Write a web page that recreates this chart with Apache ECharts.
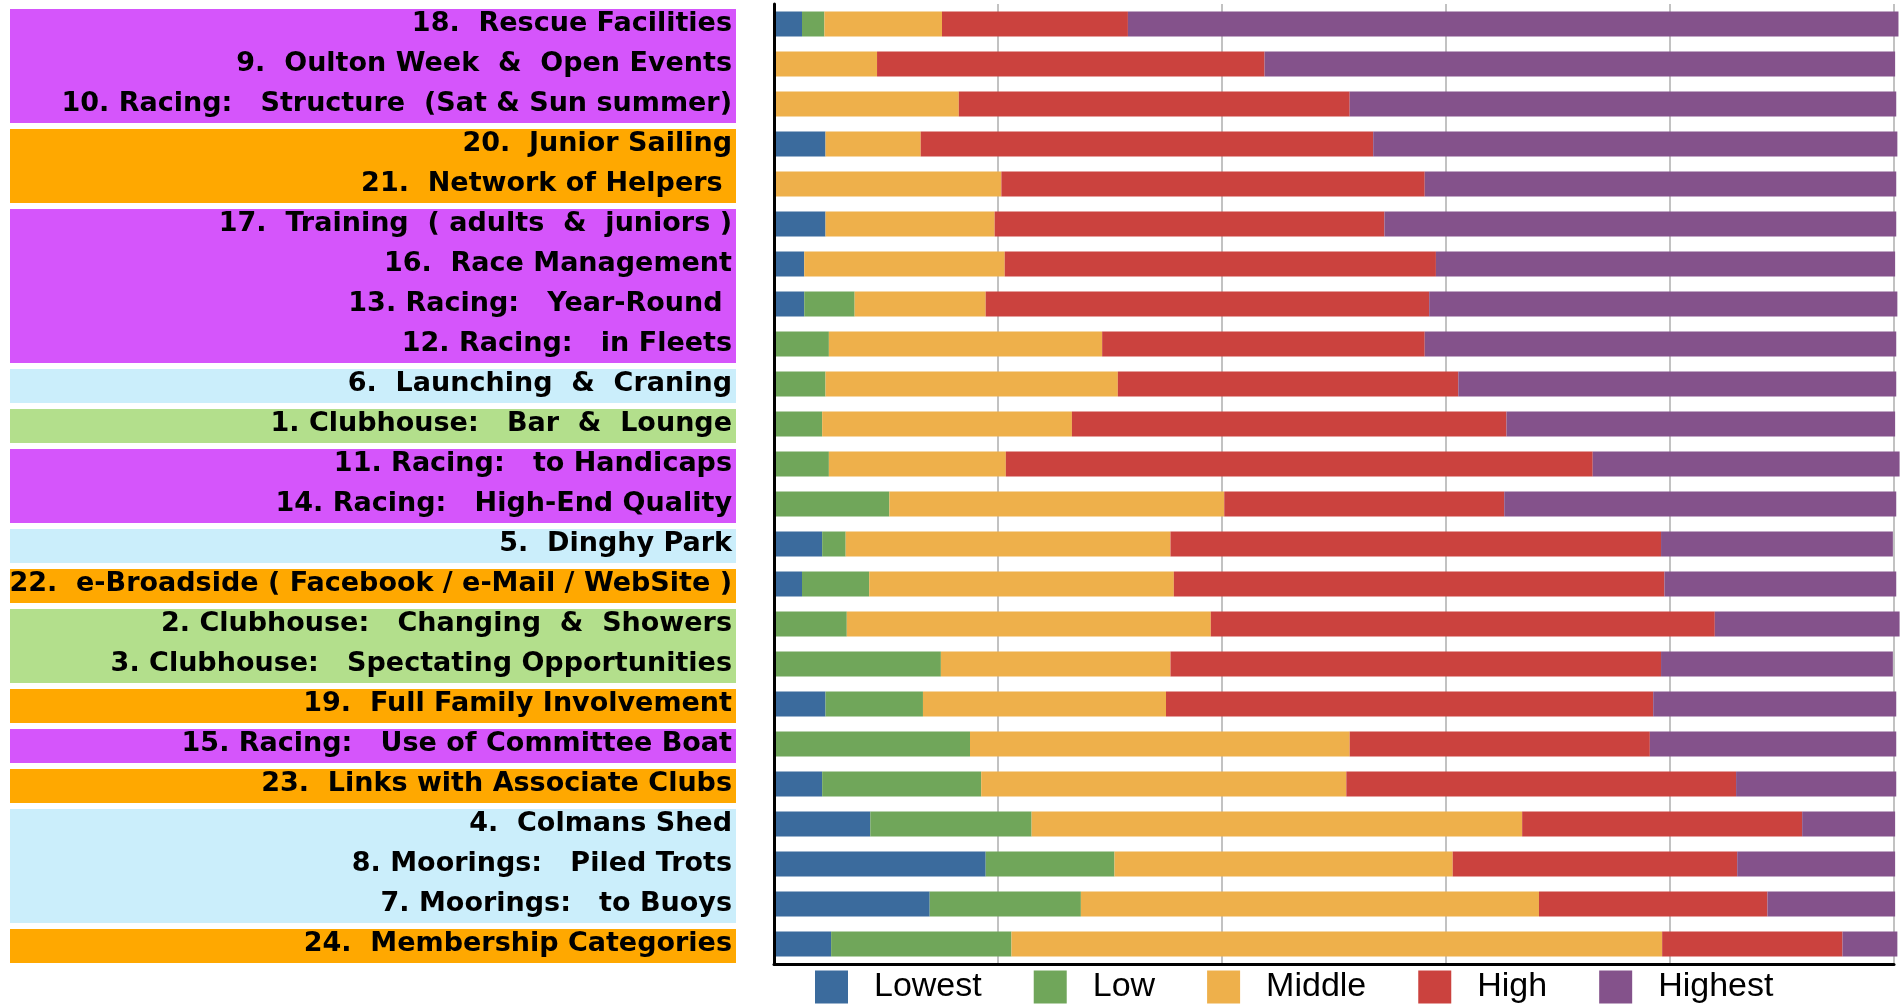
<!DOCTYPE html>
<html>
<head>
<meta charset="utf-8">
<script src="https://cdn.jsdelivr.net/npm/echarts@6/dist/echarts.min.js"></script>
<style>
html,body{margin:0;padding:0;background:#fff;}
#chart{width:1902px;height:1007px;}
</style>
</head>
<body>
<div id="chart"></div>
<script>
const categories = [
  "18.  Rescue Facilities",
  "9.  Oulton Week  &  Open Events",
  "10. Racing:   Structure  (Sat & Sun summer)",
  "20.  Junior Sailing",
  "21.  Network of Helpers ",
  "17.  Training  ( adults  &  juniors )",
  "16.  Race Management",
  "13. Racing:   Year-Round ",
  "12. Racing:   in Fleets",
  "6.  Launching  &  Craning",
  "1. Clubhouse:   Bar  &  Lounge",
  "11. Racing:   to Handicaps",
  "14. Racing:   High-End Quality",
  "5.  Dinghy Park",
  "22.  e-Broadside ( Facebook / e-Mail / WebSite )",
  "2. Clubhouse:   Changing  &  Showers",
  "3. Clubhouse:   Spectating Opportunities",
  "19.  Full Family Involvement",
  "15. Racing:   Use of Committee Boat",
  "23.  Links with Associate Clubs",
  "4.  Colmans Shed",
  "8. Moorings:   Piled Trots",
  "7. Moorings:   to Buoys",
  "24.  Membership Categories"
];
// label background group of each category
const categoryGroup = ["P","P","P","O","O","P","P","P","P","B","G","P","P","B","O","G","G","O","P","O","B","B","B","O"];

const seriesNames = ["Lowest","Low","Middle","High","Highest"];
const lowest  = [2.5,0,0,4.6,0,4.6,2.7,2.7,0,0,0,0,0,4.3,2.5,0,0,4.6,0,4.3,8.6,18.9,13.9,5.1];
const low     = [2.0,0,0,0,0,0,0,4.5,4.9,4.6,4.3,4.9,10.3,2.1,6.0,6.5,14.9,8.7,17.5,14.2,14.4,11.5,13.5,16.1];
const middle  = [10.5,9.2,16.5,8.5,20.3,15.1,17.9,11.7,24.4,26.1,22.3,15.8,29.9,29.0,27.2,32.5,20.5,21.7,33.9,32.6,43.8,30.2,40.9,58.1];
const high    = [16.6,34.6,34.9,40.4,37.8,34.8,38.5,39.6,28.8,30.4,38.8,52.4,25.0,43.8,43.8,45.0,43.8,43.5,26.8,34.8,25.0,25.4,20.4,16.1];
const highest = [68.8,56.3,48.8,46.8,42.1,45.7,41.0,41.8,42.1,39.1,34.7,27.4,35.0,20.7,20.7,16.5,20.7,21.7,22.0,14.3,8.3,14.1,11.4,4.9];

const barColors = ["#3b6b9d","#70a65a","#eeb04b","#cb423e","#84528b"];
const groupColors = {P:"#d555fb", O:"#ffa800", B:"#cbeefb", G:"#b3df8c"};

// runs of consecutive categories sharing a group colour
const runs = [];
categoryGroup.forEach((g, i) => {
  const last = runs[runs.length - 1];
  if (last && last[3] === g) { last[2] = i; }
  else runs.push([0, i, i, g]);
});

const chart = echarts.init(document.getElementById('chart'));
const values = [lowest, low, middle, high, highest];

const barSeries = seriesNames.map((n, k) => ({
  name: n,
  type: 'bar',
  stack: 'total',
  barWidth: 25,
  clip: false,
  itemStyle: {color: barColors[k]},
  data: values[k],
  z: 2
}));

const boxSeries = {
  type: 'custom',
  silent: true,
  clip: false,
  z: 1,
  encode: {x: 0, y: [1, 2]},
  data: runs.map(r => [r[0], r[1], r[2], r[3]]),
  renderItem: function (params, api) {
    const s = api.coord([0, api.value(1)]);
    const e = api.coord([0, api.value(2)]);
    const band = api.size([0, 1])[1];
    const top = s[1] - band / 2 + 5;
    const bottom = e[1] + band / 2 - 1;
    const right = s[0] - 38;
    const left = 10;
    const g = runs[params.dataIndex][3];
    return {
      type: 'rect',
      shape: {x: left, y: top, width: right - left, height: bottom - top},
      style: {fill: groupColors[g]}
    };
  }
};

chart.setOption({
  animation: false,
  backgroundColor: '#ffffff',
  grid: {left: 774, right: 8, top: 4, height: 960},
  legend: {
    data: seriesNames,
    left: 810,
    top: 965,
    icon: 'rect',
    itemWidth: 33,
    itemHeight: 33,
    itemGap: 52,
    textStyle: {fontFamily: 'Liberation Sans, Arial, sans-serif', fontSize: 34, color: '#000', padding: [0, 0, 0, 21]}
  },
  xAxis: {
    type: 'value',
    min: 0,
    max: 100,
    interval: 20,
    axisLabel: {show: false},
    axisTick: {show: false},
    axisLine: {show: true, lineStyle: {color: '#000', width: 3}},
    splitLine: {show: true, lineStyle: {color: '#c2c2c2', width: 2}}
  },
  yAxis: {
    type: 'category',
    inverse: true,
    data: categories,
    z: 10,
    axisTick: {show: false},
    axisLine: {show: true, lineStyle: {color: '#000', width: 3}},
    axisLabel: {
      margin: 42,
      color: '#000',
      fontFamily: 'DejaVu Sans, sans-serif',
      fontWeight: 'bold',
      fontSize: 27,
      padding: [6, 0, 0, 0]
    }
  },
  series: [boxSeries].concat(barSeries)
});
</script>
</body>
</html>
